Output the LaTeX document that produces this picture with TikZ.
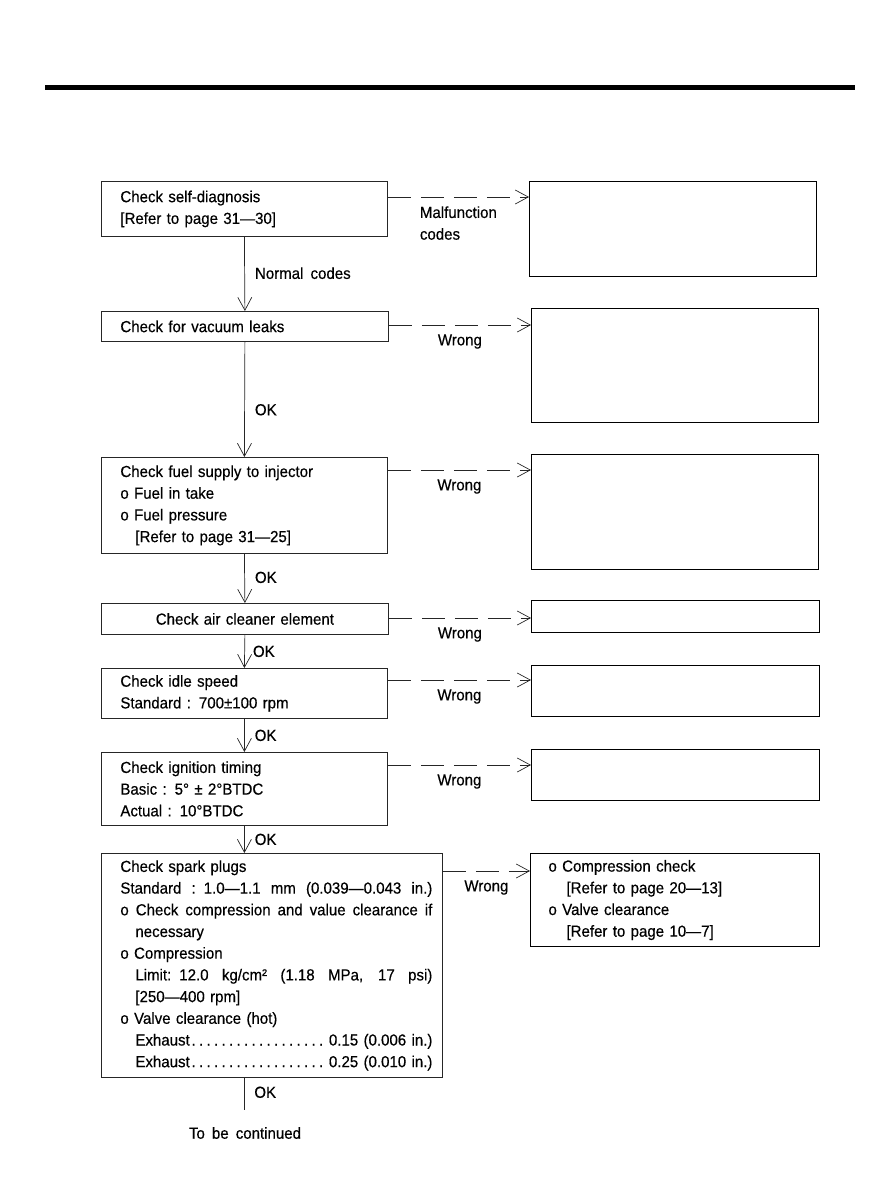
\documentclass[tikz,border=0pt]{standalone}
\usepackage{fontspec}
\setmainfont{Liberation Sans}[FakeStretch=0.94,WordSpace=1.7,FakeBold=0.4]
\usetikzlibrary{arrows.meta}
\newcommand{\flowfont}{\fontsize{16}{21.7}\selectfont}
\newcommand{\dotrow}{\cleaders\hbox to 7.5pt{\hss.\hss}\hskip 0pt plus 1fill\relax}
\newcommand{\spread}[2]{\leavevmode\hbox to #1{\spaceskip=7pt plus 20pt minus 2pt\relax #2}}
\tikzset{
  chk/.style={draw=black!85,line width=.8pt,anchor=north west,inner xsep=19pt,inner ysep=0pt,align=left,font=\flowfont},
  fixbox/.style={draw=black,line width=1pt,anchor=north west,inner sep=0pt},
  flow/.style={draw=black!85,line width=.7pt,-{Straight Barb[length=13pt,width=14pt]}},
  wrongline/.style={flow,dash pattern=on 23pt off 10pt},
  oktag/.style={right,inner xsep=10pt,inner ysep=0pt,font=\flowfont},
  wtag/.style={below=9pt,inner sep=0pt,font=\flowfont}
}

\begin{document}
\begin{tikzpicture}[x=1pt,y=-1pt]
  \useasboundingbox (0,0) rectangle (890,1200);
  \draw[line width=5pt] (45,87) -- (855,87);
  % check steps
  \node[chk,text width=248pt,minimum height=55pt] (selfdiag) at (101,181)
    {Check self-diagnosis\\{[}Refer to page 31—30]};
  \node[chk,text width=249pt,minimum height=30pt] (vacuum) at (101,311)
    {Check for vacuum leaks};
  \node[chk,text width=248pt,minimum height=96pt] (fuel) at (101,457)
    {Check fuel supply to injector\\o Fuel in take\\o Fuel pressure\\\hspace*{15pt}[Refer to page 31—25]};
  \node[chk,text width=249pt,minimum height=31pt,align=center] (aircl) at (101,603)
    {Check air cleaner element};
  \node[chk,text width=248pt,minimum height=50pt] (idle) at (101,668)
    {Check idle speed\\Standard : 700±100 rpm};
  \node[chk,text width=248pt,minimum height=73pt] (ignit) at (101,752)
    {Check ignition timing\\Basic : 5° ± 2°BTDC\\Actual : 10°BTDC};
  \node[chk,inner xsep=0pt,text width=341pt,minimum height=224pt] (plugs) at (101,853)
    {\hspace*{19pt}\parbox{312pt}{\raggedright
      Check spark plugs\\
      \spread{312pt}{Standard : 1.0—1.1 mm (0.039—0.043 in.)}\\
      \spread{312pt}{o Check compression and value clearance if}\\
      \hspace*{15pt}necessary\\
      o Compression\\
      \hspace*{15pt}\spread{297pt}{Limit: 12.0 kg/cm² (1.18 MPa, 17 psi)}\\
      \hspace*{15pt}[250—400 rpm]\\
      o Valve clearance (hot)\\
      \hspace*{15pt}Exhaust\dotrow\hspace{4pt}0.15 (0.006 in.)\\
      \hspace*{15pt}Exhaust\dotrow\hspace{4pt}0.25 (0.010 in.)}};
  % remedies
  \node[fixbox,minimum width=287pt,minimum height=95pt] (fixdiag) at (529,181) {};
  \node[fixbox,minimum width=287pt,minimum height=114pt] (fixvac) at (531,308) {};
  \node[fixbox,minimum width=287pt,minimum height=115pt] (fixfuel) at (531,454) {};
  \node[fixbox,minimum width=288pt,minimum height=32pt] (fixair) at (531,600) {};
  \node[fixbox,minimum width=288pt,minimum height=51pt] (fixidle) at (531,665) {};
  \node[fixbox,minimum width=288pt,minimum height=51pt] (fixign) at (531,749) {};
  \node[fixbox,inner xsep=18pt,text width=253pt,minimum height=93pt,align=left,font=\flowfont] (fixplugs) at (530,853)
    {o Compression check\\\hspace*{18pt}[Refer to page 20—13]\\o Valve clearance\\\hspace*{18pt}[Refer to page 10—7]};
  % OK path
  \draw[flow] (selfdiag.south) -- (vacuum.north) node[oktag,pos=.49] {Normal codes};
  \draw[flow] (vacuum.south) -- (fuel.north) node[oktag,pos=.59] {OK};
  \draw[flow] (fuel.south) -- (aircl.north) node[oktag,pos=.48] {OK};
  \draw[flow] (aircl.south) -- (idle.north) node[oktag,pos=.5,xshift=-2pt] {OK};
  \draw[flow] (idle.south) -- (ignit.north) node[oktag,pos=.5] {OK};
  \draw[flow] (ignit.south) -- (ignit.south |- plugs.north) node[oktag,pos=.5] {OK};
  \coordinate (contd) at (244,1110);
  \draw[draw=black!85,line width=.7pt] (contd |- plugs.south) -- (contd) node[oktag,pos=.45] {OK};
  \node[font=\flowfont] (contdtext) at (245,1133) {To be continued};
  % wrong path
  \draw[wrongline] ([yshift=-16pt]selfdiag.north east) coordinate (w-selfdiag) -- (w-selfdiag -| fixdiag.west)
    node[wtag,pos=.5,align=left] {Malfunction\\codes};
  \foreach \src/\dst/\dy in {vacuum/fixvac/14,fuel/fixfuel/13,aircl/fixair/15,idle/fixidle/12,ignit/fixign/13,plugs/fixplugs/18}
    \draw[wrongline] ([yshift=-\dy pt]\src.north east) coordinate (w-\src) -- (w-\src -| \dst.west)
      node[wtag,pos=.5] {Wrong};
\end{tikzpicture}
\end{document}
